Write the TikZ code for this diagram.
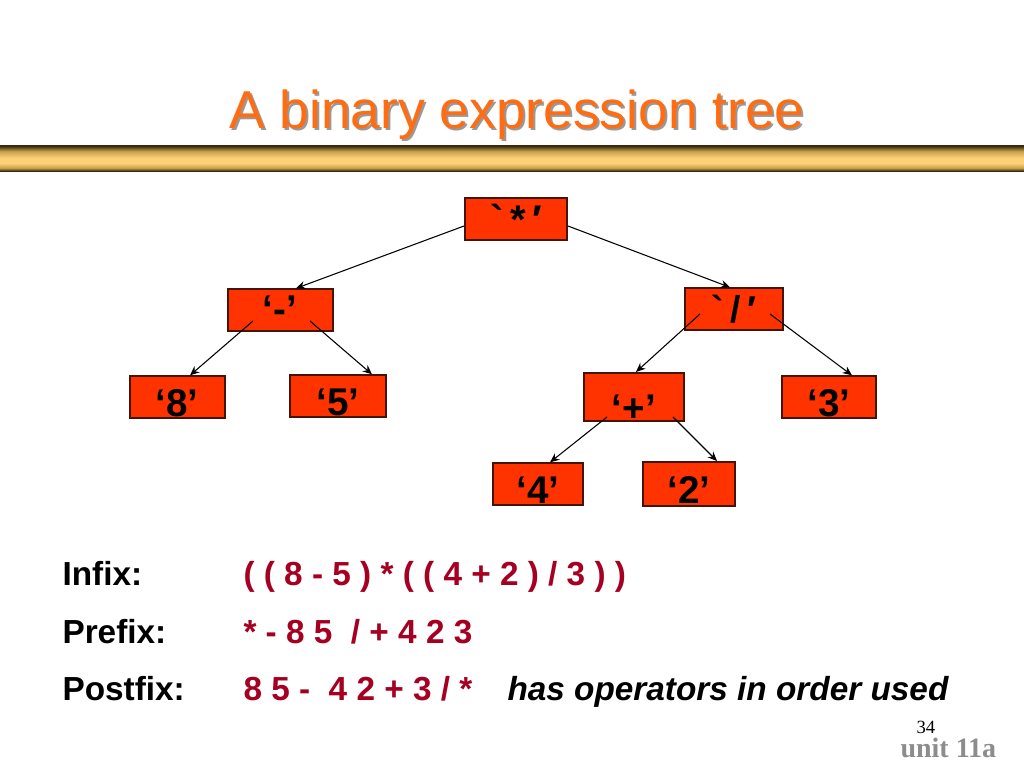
\documentclass[tikz,border=0pt]{standalone}
\usepackage{fontspec}
\setmainfont{Liberation Sans}
\newfontfamily\plainquotes{Liberation Sans}[Ligatures=TeXOff]
\newfontfamily\serifpage{Liberation Serif}
\usetikzlibrary{arrows.meta}

\definecolor{boxred}{RGB}{255,51,0}
\definecolor{boxedge}{RGB}{70,20,5}
\definecolor{exprred}{RGB}{165,0,33}
\definecolor{titleorange}{RGB}{255,108,18}
\definecolor{bardark}{RGB}{55,45,12}
\definecolor{barmid}{RGB}{200,160,75}
\definecolor{barlight}{RGB}{252,208,118}
% la barra ocupa de 25bp (abajo) a 75bp (arriba)
\pgfdeclareverticalshading{goldbar}{100bp}{%
  color(0bp)=(bardark);color(25bp)=(bardark);color(31bp)=(barmid);color(40bp)=(barlight);
  color(50bp)=(barlight);color(63bp)=(barmid);color(73bp)=(bardark);color(100bp)=(bardark)}

\begin{document}
\begin{tikzpicture}[x=0.75pt,y=-0.75pt,line width=0.8pt,>={Stealth[length=7pt,width=6pt]},
  tbox/.style={draw=boxedge,fill=boxred,line width=1.5pt,minimum width=72pt,minimum height=31pt,
    inner sep=0pt,font=\bfseries\fontsize{29}{29}\selectfont,text depth=0pt},
  exprline/.style={anchor=base west,inner sep=0pt,font=\bfseries\fontsize{25}{25}\selectfont}]
  \useasboundingbox (0,0) rectangle (1024,768);
  % --- titulo ---
  \node[anchor=base,text=black!40,font=\fontsize{40}{40}\selectfont] (shadow) at (519,130){A binary expression tree};
  \node[anchor=base,text=titleorange,font=\fontsize{40}{40}\selectfont] (title) at (517,128){A binary expression tree};
  \shade[shading=goldbar] (0,145) rectangle (1024,171);
  % --- nodos del arbol ---
  \node[tbox,minimum width=76.5pt,text height=22pt,font=\plainquotes\bfseries\fontsize{30}{30}\selectfont] (star) at (516,219){`\,*\,′};
  \node[tbox,minimum width=78.75pt,text height=19pt] (minus) at (280,310){‘-’};
  \node[tbox,minimum width=73.5pt,text height=20pt,font=\plainquotes\bfseries\fontsize{28}{28}\selectfont] (slash) at (734,309){`\,/\,′};
  \node[tbox,minimum width=71.25pt,text height=28.5pt] (eight) at (177,397){‘8’};
  \node[tbox,text height=28.5pt] (five) at (338,396){‘5’};
  \node[tbox,minimum width=75pt,text height=36pt] (plus) at (634,397){‘+’};
  \node[tbox,minimum width=70.5pt,text height=28.5pt] (three) at (829,397){‘3’};
  \node[tbox,minimum width=67.5pt,text height=28.5pt] (four) at (538,484){‘4’};
  \node[tbox,minimum width=69pt,minimum height=33pt,text height=28.5pt] (two) at (689,484){‘2’};
  % --- aristas ---
  \draw[->] ([shift={(0,7)}]star.west) -- ([shift={(16,0)}]minus.north);
  \draw[->] ([shift={(0,7)}]star.east) -- ([shift={(-4,0)}]slash.north);
  \draw[->] ([shift={(-27,11)}]minus.center) -- ([shift={(13,0)}]eight.north);
  \draw[->] ([shift={(30,11)}]minus.center) -- ([shift={(34,0)}]five.north);
  \draw[->] ([shift={(-34,5)}]slash.center) -- ([shift={(2,0)}]plus.north);
  \draw[->] ([shift={(36,5)}]slash.center) -- ([shift={(23,0)}]three.north);
  \draw[->] ([shift={(-27,20)}]plus.center) -- ([shift={(12,0)}]four.north);
  \draw[->] ([shift={(39,20)}]plus.center) -- ([shift={(28,0)}]two.north);
  % --- recorridos ---
  \node[exprline] (infix) at (62,585){Infix:};
  \node[exprline,text=exprred] (infixexpr) at (243,585){( ( 8 - 5 ) * ( ( 4 + 2 ) / 3 ) )};
  \node[exprline] (prefix) at (62,643){Prefix:};
  \node[exprline,text=exprred] (prefixexpr) at (243,643){* - 8 5 ~/ + 4 2 3};
  \node[exprline] (postfix) at (62,700){Postfix:};
  \node[exprline,text=exprred] (postfixexpr) at (243,700){8 5 - ~4 2 + 3 / *};
  \node[exprline,font=\bfseries\itshape\fontsize{25}{25}\selectfont] (note) at (507,700){has operators in order used};
  % --- pie ---
  \node[anchor=base west,inner sep=0pt,font=\serifpage\fontsize{14}{14}\selectfont] (pagenum) at (916,733){34};
  \node[anchor=base west,inner sep=0pt,text=black!45,font=\serifpage\bfseries\fontsize{21}{21}\selectfont] (unit) at (900,757){unit 11a};
\end{tikzpicture}
\end{document}
